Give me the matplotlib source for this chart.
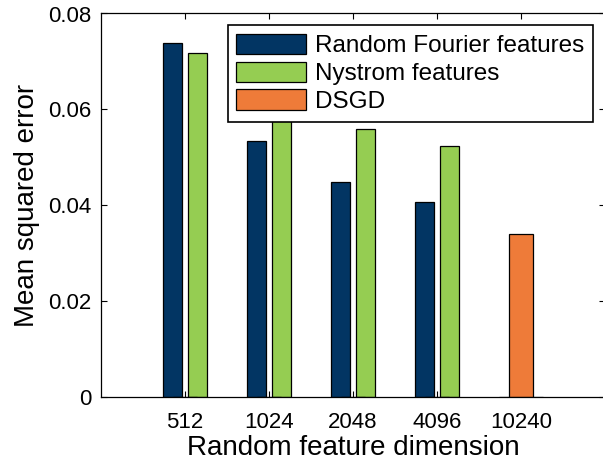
import matplotlib
matplotlib.use("Agg")
import matplotlib.pyplot as plt
import numpy as np

plt.rcParams['font.family'] = ['Liberation Sans', 'DejaVu Sans']

categories = ["512", "1024", "2048", "4096", "10240"]
rff = [0.0738, 0.0533, 0.0449, 0.0406, 0.0]
nystrom = [0.0718, 0.0630, 0.0560, 0.0523, 0.0]
dsgd = [0.0, 0.0, 0.0, 0.0, 0.0339]
series_names = ["Random Fourier features", "Nystrom features", "DSGD"]
yticks = [0, 0.02, 0.04, 0.06, 0.08]
ytick_labels = ["0", "0.02", "0.04", "0.06", "0.08"]

W, H = 603, 461
fig = plt.figure(figsize=(W / 100, H / 100), dpi=100)
ax = fig.add_axes([101 / W, 1 - 397 / H, 504 / W, (397 - 13.5) / H])

x = np.arange(1, len(categories) + 1)
ax.bar(x - 0.145, rff, width=0.226, color="#023563", edgecolor="black", linewidth=0.9, label=series_names[0], zorder=2)
ax.bar(x + 0.145, nystrom, width=0.226, color="#95cd52", edgecolor="black", linewidth=0.9, label=series_names[1], zorder=2)
ax.bar(x, dsgd, width=0.29, color="#ee7b39", edgecolor="black", linewidth=0.9, label=series_names[2], zorder=2)

ax.set_xlim(0, 6)
ax.set_ylim(0, 0.08)
ax.set_xticks(x)
ax.set_xticklabels(categories)
ax.set_yticks(yticks)
ax.set_yticklabels(ytick_labels)
ax.tick_params(direction="in", top=True, right=True, length=4.5, width=0.8, labelsize=16, colors="black")
ax.tick_params(axis="x", pad=11)
ax.tick_params(axis="y", pad=7)
for s in ax.spines.values():
    s.set_linewidth(0.9)

ax.set_xlabel("Random feature dimension", fontsize=20, labelpad=1)
ax.set_ylabel("Mean squared error", fontsize=20, labelpad=6)

leg = ax.legend(loc="upper right", bbox_to_anchor=(593 / W, 1 - 25 / H), bbox_transform=fig.transFigure,
                fontsize=17.5, frameon=True, fancybox=False, framealpha=1, edgecolor="black",
                handlelength=2.85, handleheight=0.9, handletextpad=0.38, labelspacing=0.18,
                borderpad=0.36, borderaxespad=0)
leg.get_frame().set_linewidth(1.2)
leg.set_zorder(5)

fig.savefig("out.png", dpi=100)
